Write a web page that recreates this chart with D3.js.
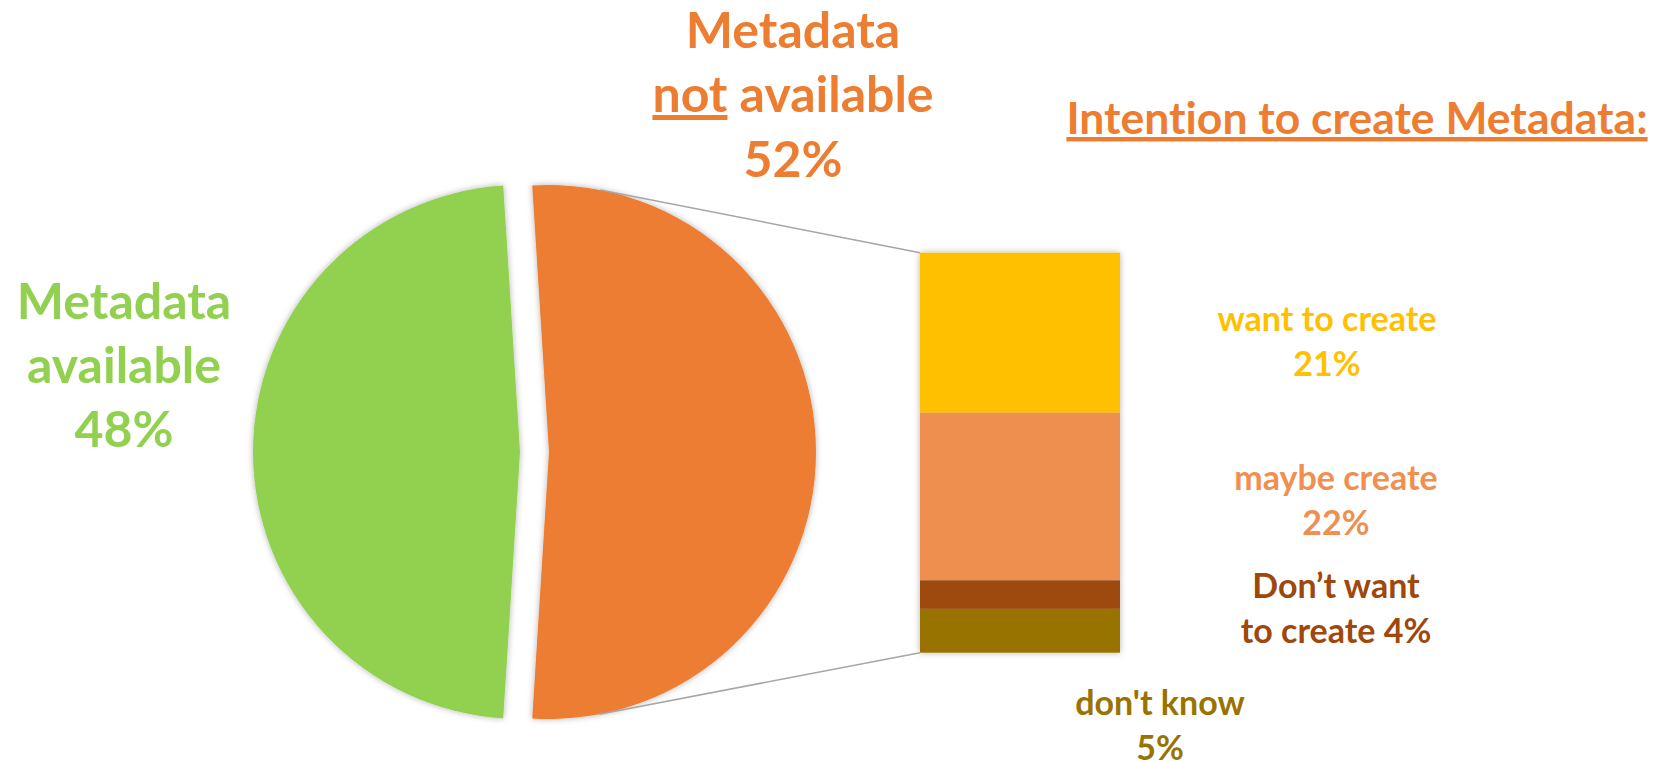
<!DOCTYPE html>
<html>
<head>
<meta charset="utf-8">
<script src="https://cdn.jsdelivr.net/npm/d3@7"></script>
<style>
  html, body { margin: 0; padding: 0; background: #fff; }
  svg { display: block; font-family: Lato, "Open Sans", sans-serif; font-weight: bold; font-variant-ligatures: none; }
</style>
</head>
<body>
<svg id="chart" width="1660" height="761"></svg>
<script>
// pie: metadata availability
const pieCategories = ["Metadata available", "Metadata not available"];
const pieValues = [48, 52];
const pieColors = ["#92d050", "#ed7d31"];

// bar: split of "not available" by intention
const barCategories = ["want to create", "maybe create", "Don\u2019t want to create", "don't know"];
const barValues = [20.8, 21.8, 3.7, 5.7];
const barLabelText = [["want to create", "21%"], ["maybe create", "22%"], ["Don\u2019t want", "to create 4%"], ["don't know", "5%"]];
const barColors = ["#ffc000", "#ef8f50", "#9e480e", "#997300"];

const svg = d3.select("#chart");

// soft shadow like the office chart
const defs = svg.append("defs");
defs.append("filter").attr("id", "shadow")
  .attr("x", "-10%").attr("y", "-10%").attr("width", "120%").attr("height", "120%")
  .append("feDropShadow")
  .attr("dx", 0).attr("dy", 0).attr("stdDeviation", 3)
  .attr("flood-color", "#000").attr("flood-opacity", 0.3);

const cx = 534.5, cy = 452, r = 267, explode = 14.5;

// green centred on the left, orange on the right
const greenAngle = 2 * Math.PI * pieValues[0] / d3.sum(pieValues);
const start = 1.5 * Math.PI - greenAngle / 2;
const pie = d3.pie().sort(null).startAngle(start).endAngle(start + 2 * Math.PI);
const arcs = pie(pieValues);
const arc = d3.arc().innerRadius(0).outerRadius(r);

const pieG = svg.append("g").attr("transform", `translate(${cx},${cy})`);
pieG.selectAll("path")
  .data(arcs)
  .enter()
  .append("path")
  .attr("d", arc)
  .attr("fill", (d, i) => pieColors[i])
  .attr("filter", "url(#shadow)")
  .attr("transform", d => {
    const mid = (d.startAngle + d.endAngle) / 2;
    return `translate(${explode * Math.sin(mid)},${-explode * Math.cos(mid)})`;
  });

// bar of the split slice
const barX = 920, barW = 200, barTop = 252.7, barBottom = 652.7;
const y = d3.scaleLinear().domain([0, d3.sum(barValues)]).range([barTop, barBottom]);
const stacked = barValues.map((v, i) => ({ v, i, y0: d3.sum(barValues.slice(0, i)) }));

const barG = svg.append("g").attr("filter", "url(#shadow)");
barG.selectAll("rect")
  .data(stacked)
  .enter()
  .append("rect")
  .attr("x", barX)
  .attr("y", d => y(d.y0))
  .attr("width", barW)
  .attr("height", d => y(d.y0 + d.v) - y(d.y0))
  .attr("fill", d => barColors[d.i]);

// connector lines, tangent to the orange slice
const oc = [cx + explode, cy];
function tangent(px, py, side) {
  const dx = px - oc[0], dy = py - oc[1];
  const d = Math.hypot(dx, dy);
  const a = Math.atan2(dy, dx) + side * Math.acos(r / d);
  return [oc[0] + r * Math.cos(a), oc[1] + r * Math.sin(a)];
}
[[barTop, -1], [barBottom, 1]].forEach(([py, side]) => {
  const t = tangent(barX, py, side);
  svg.append("line")
    .attr("x1", t[0]).attr("y1", t[1])
    .attr("x2", barX).attr("y2", py)
    .attr("stroke", "#a6a6a6").attr("stroke-width", 1.5);
});

// labels
function block(lines, x, y0, lh, size, color) {
  const t = svg.append("text").attr("text-anchor", "middle")
    .attr("font-size", size).attr("fill", color);
  lines.forEach((ln, k) => {
    t.append("tspan").attr("x", x).attr("y", y0 + k * lh).text(ln);
  });
  return t;
}

block(["Metadata", "available", pieValues[0] + "%"], 124, 319, 64, 50, pieColors[0]);

const notLabel = svg.append("text").attr("text-anchor", "middle")
  .attr("font-size", 50).attr("fill", pieColors[1]);
notLabel.append("tspan").attr("x", 793).attr("y", 48).text("Metadata");
const l2 = notLabel.append("tspan").attr("x", 793).attr("y", 112);
l2.append("tspan").style("text-decoration", "underline").text("not");
l2.append("tspan").text(" available");
notLabel.append("tspan").attr("x", 793).attr("y", 177).text(pieValues[1] + "%");

svg.append("text").attr("x", 1357).attr("y", 134).attr("text-anchor", "middle")
  .attr("font-size", 44.5).attr("fill", "#ed7d31")
  .style("text-decoration", "underline")
  .text("Intention to create Metadata:");

const labelPos = [[1327, 331], [1336, 490], [1336, 598], [1160, 715]];
barLabelText.forEach((lines, i) => {
  block(lines, labelPos[i][0], labelPos[i][1], 45, 34, barColors[i]);
});
</script>
</body>
</html>
